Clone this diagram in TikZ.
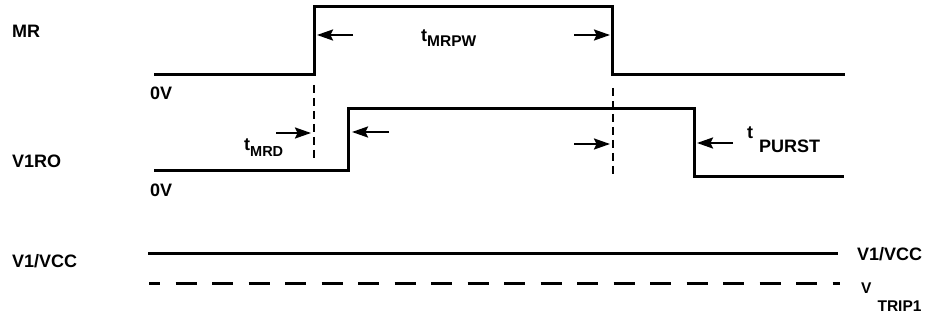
\documentclass[tikz,border=0pt]{standalone}
\usepackage{fontspec}
\setmainfont{Liberation Sans}
\usetikzlibrary{arrows.meta}
\begin{document}
\begin{tikzpicture}[x=1pt,y=-1pt,
  wave/.style={line width=3pt,line join=miter},
  guide/.style={line width=2pt,dash pattern=on 8pt off 5pt},
  tarrow/.style={line width=2.2pt,-{Stealth[length=16pt,width=11pt,inset=2.5pt]}},
  lbl/.style={font=\fontsize{18}{20}\selectfont\bfseries,inner sep=0pt},
  sublbl/.style={font=\fontsize{15.5}{17}\selectfont\bfseries,inner sep=0pt}]
\useasboundingbox (0,0) rectangle (933,320);
% MR waveform
\coordinate (mr0) at (154,75);
\coordinate (mr1) at (314,75);
\coordinate (mr2) at (314,7);
\coordinate (mr3) at (612.5,7);
\coordinate (mr4) at (612.5,75);
\coordinate (mr5) at (845,75);
\draw[wave] (mr0) -- (mr1) -- (mr2) -- (mr3) -- (mr4) -- (mr5);
% V1RO waveform
\coordinate (ro0) at (154,170.5);
\coordinate (ro1) at (348.5,170.5);
\coordinate (ro2) at (348.5,109);
\coordinate (ro3) at (694,109);
\coordinate (ro4) at (694,177);
\coordinate (ro5) at (844,177);
\draw[wave] (ro0) -- (ro1) -- (ro2) -- (ro3) -- (ro4) -- (ro5);
% supply lines
\coordinate (vcc0) at (148,253);
\coordinate (vcc1) at (838,253);
\draw[line width=3pt] (vcc0) -- (vcc1);
\coordinate (trip0) at (149,283.5);
\coordinate (trip1) at (840,283.5);
\draw[line width=3pt,dash pattern=on 21pt off 15.5pt,dash phase=10pt] (trip0) -- (trip1);
% guide lines
\coordinate (g1a) at (314,85);
\coordinate (g1b) at (314,160);
\draw[guide] (g1a) -- (g1b);
\coordinate (g2a) at (612.5,88);
\coordinate (g2b) at (612.5,176);
\draw[guide] (g2a) -- (g2b);
% arrows
\coordinate (a1s) at (353,35); \coordinate (a1e) at (317,35);
\coordinate (a2s) at (574,35); \coordinate (a2e) at (610,35);
\coordinate (a3s) at (276,133); \coordinate (a3e) at (311,133);
\coordinate (a4s) at (389,132); \coordinate (a4e) at (352,132);
\coordinate (a5s) at (574,144); \coordinate (a5e) at (610,144);
\coordinate (a6s) at (733,143); \coordinate (a6e) at (697,143);
\draw[tarrow] (a1s) -- (a1e);
\draw[tarrow] (a2s) -- (a2e);
\draw[tarrow] (a3s) -- (a3e);
\draw[tarrow] (a4s) -- (a4e);
\draw[tarrow] (a5s) -- (a5e);
\draw[tarrow] (a6s) -- (a6e);
% labels
\node[lbl,anchor=west] (mr) at (12,31) {MR};
\node[lbl,anchor=west] (zv1) at (150,93) {0V};
\node[lbl,anchor=west] (v1ro) at (12,161) {V1RO};
\node[lbl,anchor=west] (zv2) at (150,190) {0V};
\node[lbl,anchor=west] (vccl) at (12,261) {V1/VCC};
\node[lbl,anchor=west] (vccr) at (857,254) {V1/VCC};
\node[lbl,anchor=base west] (tmrpw) at (421,42) {t\raisebox{-5pt}{\fontsize{15.5}{17}\selectfont MRPW}};
\node[lbl,anchor=base west] (tmrd) at (244,151) {t\raisebox{-6pt}{\fontsize{14.5}{16}\selectfont MRD}};
\node[lbl,anchor=base west] (tpurst) at (747,139) {t\hspace{6pt}\raisebox{-14pt}{PURST}};
\node[sublbl,anchor=base west] (vtrip) at (861,293) {V\hspace{6pt}\raisebox{-18pt}{TRIP1}};
\end{tikzpicture}
\end{document}
